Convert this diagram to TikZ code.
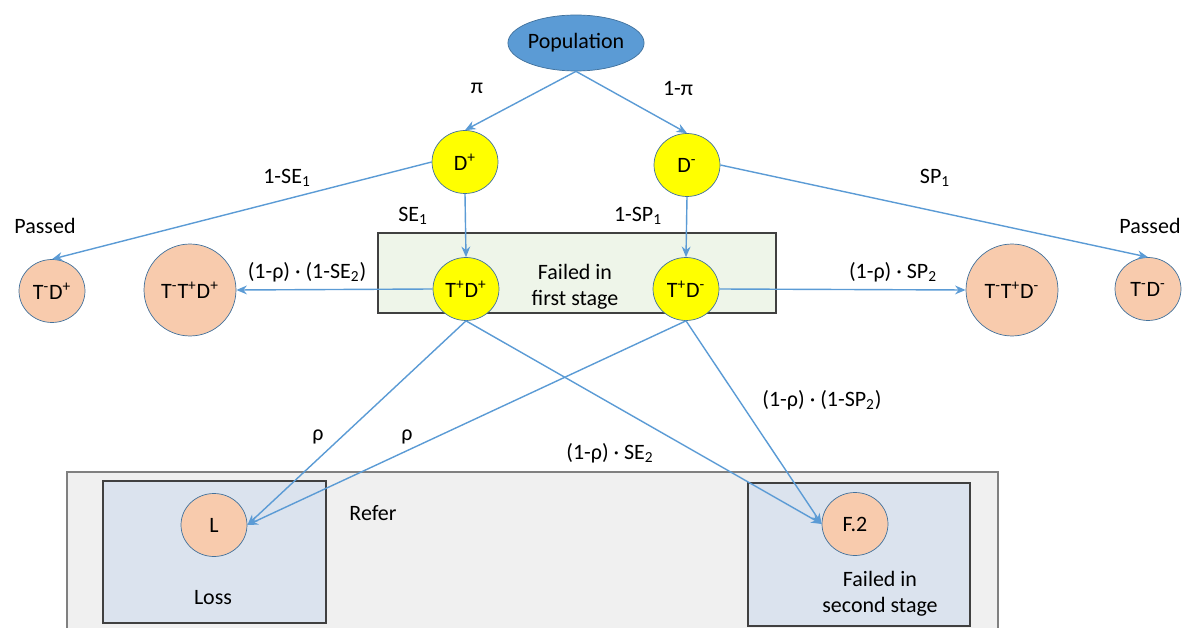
\documentclass[tikz,border=0pt]{standalone}
\usepackage{fontspec}
\setmainfont{Carlito}
\usetikzlibrary{shapes.geometric}
\usetikzlibrary{arrows.meta}
\definecolor{flowLineColor}{RGB}{91,155,213}
\definecolor{circleBorderColor}{RGB}{65,113,156}
\definecolor{populationColor}{RGB}{91,155,213}
\definecolor{diseaseColor}{RGB}{255,255,0}
\definecolor{outcomeColor}{RGB}{248,203,173}
\definecolor{firstStageColor}{RGB}{238,245,233}
\definecolor{referColor}{RGB}{240,240,240}
\definecolor{secondStageColor}{RGB}{219,227,238}
\definecolor{boxBorderColor}{RGB}{64,64,64}
\tikzset{
	every node/.style = {
		font = \fontsize{12.5}{15}\selectfont
	},
	population/.style = {
		ellipse, draw = circleBorderColor, fill = populationColor,
		minimum width = 2.36cm, minimum height = 1.12cm, inner sep = 0pt
	},
	disease/.style = {
		ellipse, draw = circleBorderColor, fill = diseaseColor,
		minimum width = 1.32cm, minimum height = 1.26cm, inner sep = 0pt
	},
	outcome/.style = {
		ellipse, draw = circleBorderColor, fill = outcomeColor,
		minimum width = 1.32cm, minimum height = 1.26cm, inner sep = 0pt
	},
	bigOutcome/.style = {
		outcome, minimum width = 1.84cm, minimum height = 1.84cm
	},
	flowLineStyle/.style = {
		-{Stealth[length=6pt, width=5pt]}, line width = 0.8pt, draw = flowLineColor
	},
	stageBox/.style = {
		draw = boxBorderColor, line width = 0.7pt
	}
}

\begin{document}
\begin{tikzpicture}[x=0.02cm, y=-0.02cm]
	\useasboundingbox (0,0) rectangle (1184,628);

	% boxes
	\fill [referColor] (67,472) rectangle (998,630);
	\draw [gray, line width = 0.7pt] (67,630) |- (998,472) -- (998,630);
	\filldraw [stageBox, fill = firstStageColor] (378,233) rectangle (776,313);
	\filldraw [stageBox, fill = secondStageColor] (103,481) rectangle (326,623);
	\filldraw [stageBox, fill = secondStageColor] (748,483) rectangle (970,626);

	\node [population] (POP) at (576,43) {Population};
	\node [disease] (Dp) at (465,162) {D\textsuperscript{+}};
	\node [disease] (Dm) at (687,165) {D\textsuperscript{-}};
	\node [disease] (TpDp) at (466,289) {T\textsuperscript{+}D\textsuperscript{+}};
	\node [disease] (TpDm) at (686,289) {T\textsuperscript{+}D\textsuperscript{-}};
	\node [outcome] (TmDp) at (52,291) {T\textsuperscript{-}D\textsuperscript{+}};
	\node [outcome] (TmDm) at (1148,289) {T\textsuperscript{-}D\textsuperscript{-}};
	\node [bigOutcome] (TmTpDp) at (190,290) {T\textsuperscript{-}T\textsuperscript{+}D\textsuperscript{+}};
	\node [bigOutcome] (TmTpDm) at (1012,290) {T\textsuperscript{-}T\textsuperscript{+}D\textsuperscript{-}};
	\node [outcome] (L) at (214,525) {L};
	\node [outcome] (F2) at (855,524) {F.2};

	\node [align=center] (FS) at (575,287) {Failed in\\first stage};
	\node [align=center] (SS) at (880,594) {Failed in\\second stage};
	\node (LOSS) at (213,598) {Loss};
	\node (REFER) at (373,513) {Refer};
	\node (PL) at (45,226) {Passed};
	\node (PR) at (1150,226) {Passed};

	\draw [flowLineStyle] (POP.south) to (Dp.north);
	\draw [flowLineStyle] (POP.south) to (Dm.north);
	\draw [flowLineStyle] (Dp.west) to (TmDp.north);
	\draw [flowLineStyle] (Dm.east) to (TmDm.north);
	\draw [flowLineStyle] (Dp.south) to (TpDp.north);
	\draw [flowLineStyle] (Dm.south) to (TpDm.north);
	\draw [flowLineStyle] (TpDp.west) to (TmTpDp.east);
	\draw [flowLineStyle] (TpDm.east) to (TmTpDm.west);
	\draw [flowLineStyle] (TpDp.south) to (L.east);
	\draw [flowLineStyle] (TpDm.south) to (L.east);
	\draw [flowLineStyle] (TpDp.south) to (F2.west);
	\draw [flowLineStyle] (TpDm.south) to (F2.west);

	% branch labels
	\node at (477,88) {π};
	\node at (678,88) {1-π};
	\node at (287,178) {1-SE\textsubscript{1}};
	\node at (935,178) {SP\textsubscript{1}};
	\node at (413,216) {SE\textsubscript{1}};
	\node at (638,216) {1-SP\textsubscript{1}};
	\node at (307,272) {(1-ρ) · (1-SE\textsubscript{2})};
	\node at (893,272) {(1-ρ) · SP\textsubscript{2}};
	\node at (318,437) {ρ};
	\node at (407,437) {ρ};
	\node at (610,453) {(1-ρ) · SE\textsubscript{2}};
	\node at (822,400) {(1-ρ) · (1-SP\textsubscript{2})};
\end{tikzpicture}
\end{document}
